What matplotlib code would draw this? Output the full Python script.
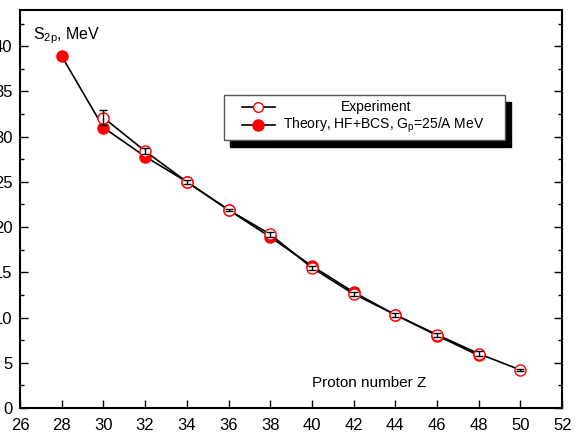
import matplotlib.pyplot as plt
from matplotlib.lines import Line2D
from matplotlib.patches import Rectangle
from matplotlib.ticker import MultipleLocator

plt.rcParams['font.family'] = ['Liberation Sans', 'DejaVu Sans']
plt.rcParams['mathtext.fontset'] = 'custom'
plt.rcParams['mathtext.rm'] = 'Liberation Sans'

# data
z_exp = [30, 32, 34, 36, 38, 40, 42, 44, 46, 48, 50]
s_exp = [32.1, 28.4, 25.0, 21.9, 19.2, 15.5, 12.6, 10.3, 8.1, 6.0, 4.2]
err_exp = [0.8, 0.3, 0.2, 0.15, 0.25, 0.2, 0.2, 0.25, 0.2, 0.25, 0.15]

z_th = [28, 30, 32, 34, 36, 38, 40, 42, 44, 46, 48]
s_th = [38.9, 31.0, 27.8, 25.0, 21.9, 18.9, 15.7, 12.8, 10.3, 8.0, 5.8]

fig = plt.figure(figsize=(5.79, 4.34), dpi=100)
ax = fig.add_axes([0.0345, 0.06, 0.9365, 0.917])

# theory: filled red circles
ax.plot(z_th, s_th, color='black', lw=1.2, marker='o', ms=8,
        mfc='red', mec='red', zorder=2)
# experiment: open red circles
ax.plot(z_exp, s_exp, color='black', lw=1.2, marker='o', ms=8,
        mfc='white', mec='red', mew=1.0, zorder=3)
ax.errorbar(z_exp, s_exp, yerr=err_exp, fmt='none', ecolor='black',
            elinewidth=1.0, capsize=3, capthick=1.0, zorder=4)

ax.set_xlim(26, 52)
ax.set_ylim(0, 44)
ax.xaxis.set_major_locator(MultipleLocator(2))
ax.yaxis.set_major_locator(MultipleLocator(5))
ax.yaxis.set_minor_locator(MultipleLocator(2.5))

for s in ax.spines.values():
    s.set_linewidth(1.5)

ax.tick_params(axis='both', which='both', direction='in', labelsize=12,
               width=1.0, top=False, right=True)
ax.tick_params(axis='both', which='major', length=6)
ax.tick_params(axis='y', which='minor', length=3)
ax.tick_params(axis='y', which='major', pad=5.5)
ax.tick_params(axis='x', which='major', pad=7)

ax.text(0.024, 0.935, r'S$_{\mathregular{2p}}$, MeV', transform=ax.transAxes,
        fontsize=11.5, ha='left', va='center')
ax.text(0.539, 0.063, 'Proton number Z', transform=ax.transAxes,
        fontsize=11, ha='left', va='center')

# legend box drawn by hand (Origin style with black shadow)
x0, x1 = 0.376, 0.895
y0, y1 = 0.673, 0.786
dx, dy = 6 / 542, 6.5 / 398
ax.add_patch(Rectangle((x0 + dx, y0 - dy), x1 - x0, y1 - y0, transform=ax.transAxes,
                       facecolor='black', edgecolor='black', zorder=5))
ax.add_patch(Rectangle((x0, y0), x1 - x0, y1 - y0, transform=ax.transAxes,
                       facecolor='white', edgecolor='#555555', lw=1.0, zorder=6))

hx0, hx1 = (241.7 - 20) / 542, (275 - 20) / 542
row1 = (408 - 106.7) / 398
row2 = (408 - 125) / 398
ax.add_line(Line2D([hx0, hx1], [row1, row1], transform=ax.transAxes, color='black',
                   lw=1.2, zorder=7))
ax.add_line(Line2D([(hx0 + hx1) / 2], [row1], transform=ax.transAxes, marker='o', ms=7,
                   mfc='white', mec='red', mew=1.0, zorder=8))
ax.add_line(Line2D([hx0, hx1], [row2, row2], transform=ax.transAxes, color='black',
                   lw=1.2, zorder=7))
ax.add_line(Line2D([(hx0 + hx1) / 2], [row2], transform=ax.transAxes, marker='o', ms=8,
                   mfc='red', mec='red', zorder=8))
ax.text((375.5 - 20) / 542, row1, 'Experiment', transform=ax.transAxes,
        fontsize=10, ha='center', va='center', zorder=9)
ax.text((283 - 20) / 542, row2, r'Theory, HF+BCS, G$_{\mathregular{p}}$=25/A MeV',
        transform=ax.transAxes, fontsize=10, ha='left', va='center', zorder=9)

fig.savefig('out.png', dpi=100)
